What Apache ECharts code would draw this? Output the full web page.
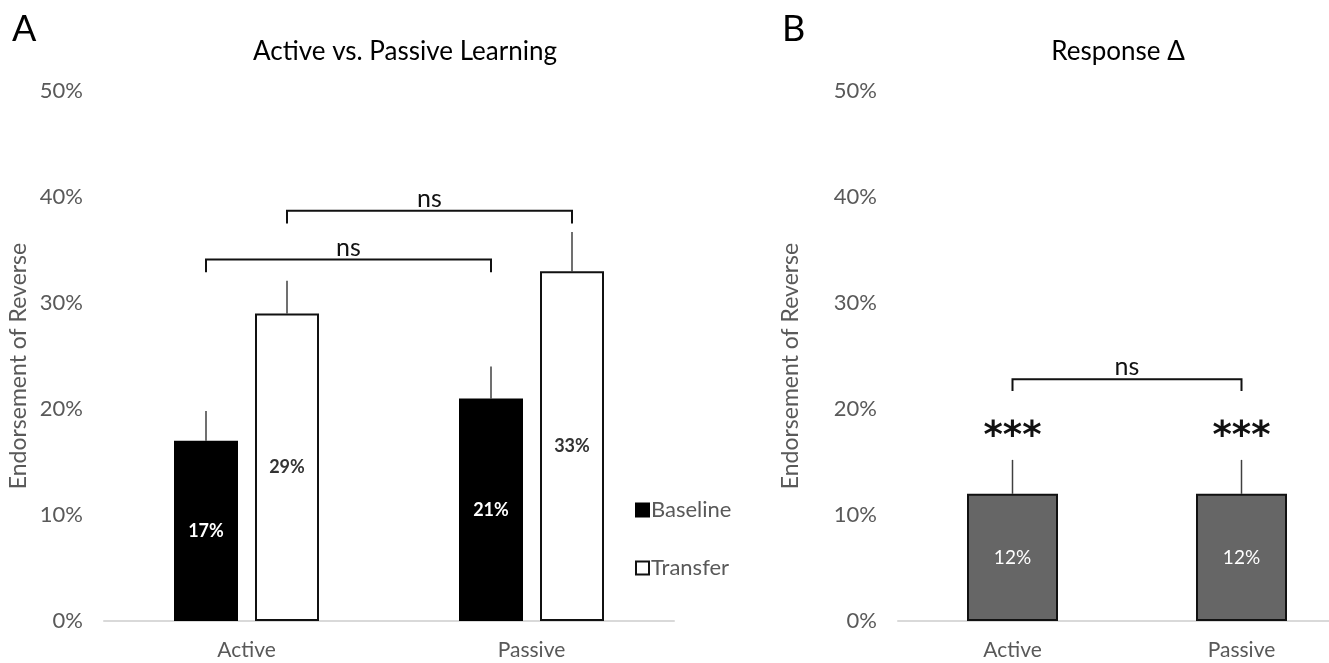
<!DOCTYPE html>
<html>
<head>
<meta charset="utf-8">
<script src="https://cdn.jsdelivr.net/npm/echarts@6/dist/echarts.min.js"></script>
<style>
  html, body { margin: 0; padding: 0; background: #fff; width: 1329px; height: 663px; overflow: hidden; }
  /* the right panel's plot area runs past the page edge */
  #chart { width: 1356px; height: 663px; }
</style>
</head>
<body>
<div id="chart"></div>
<script>
// Categories and values (percent)
const categories = ['Active', 'Passive'];
const yTicks = [0, 10, 20, 30, 40, 50];

// Panel A: endorsement at baseline and transfer
const baseline = [17, 21];
const baselineErr = [2.8, 3.0];
const transfer = [29, 33];
const transferErr = [3.1, 3.7];

// Panel B: response change
const delta = [12, 12];
const deltaErr = [3.2, 3.2];
const deltaStars = ['***', '***'];

// Significance brackets: [fromCategory, toCategory, barSide, height, legDrop, label]
const bracketsA = [
  [0, 1, -1, 34.1, 1.2, 'ns'],
  [0, 1, 1, 38.7, 1.2, 'ns']
];
const bracketsB = [
  [0, 1, 0, 22.8, 1.1, 'ns']
];

const FONT = 'Lato, "Open Sans", sans-serif';
const GRAY = '#595959';
const BAR_W = 64;
const BAR_GAP = 17;
const BAR_W_B = 91;
const HALF_STEP = (BAR_W + BAR_GAP) / 2;

function yAxisCfg(gridIndex, nameGap) {
  return {
    type: 'value', gridIndex: gridIndex, min: yTicks[0], max: yTicks[yTicks.length - 1], interval: 10,
    name: 'Endorsement of Reverse', nameLocation: 'middle', nameGap: nameGap,
    nameTextStyle: { color: GRAY, fontSize: 23, fontFamily: FONT, padding: [0, 20, 0, 0] },
    axisLine: { show: false }, axisTick: { show: false }, splitLine: { show: false },
    axisLabel: { color: GRAY, fontSize: 22, fontFamily: FONT, margin: 21,
      formatter: v => v + '%' }
  };
}
function xAxisCfg(gridIndex) {
  return {
    type: 'category', gridIndex: gridIndex, data: categories,
    axisLine: { lineStyle: { color: '#d9d9d9', width: 2 } },
    axisTick: { show: false },
    axisLabel: { color: GRAY, fontSize: 21, fontFamily: FONT, margin: 19 }
  };
}

// Upper error whisker drawn from the bar top
function errorRender(offset) {
  return function (params, api) {
    const cat = api.value(0);
    const x = api.coord([cat, 0])[0] + offset;
    const y0 = api.coord([cat, api.value(1)])[1];
    const y1 = api.coord([cat, api.value(1) + api.value(2)])[1];
    return {
      type: 'line', z2: 1,
      shape: { x1: x, y1: y0, x2: x, y2: y1 },
      style: { stroke: '#404040', lineWidth: 1.5 }
    };
  };
}
function errorData(vals, errs) {
  return vals.map((v, i) => [i, v, errs[i]]);
}

const bracketLabels = {
  bracketsA: bracketsA.map(b => b[5]),
  bracketsB: bracketsB.map(b => b[5])
};

// Bracket with legs and a centred label
function bracketRender(params, api) {
  const a = api.value(0), b = api.value(1), side = api.value(2);
  const h = api.value(3), drop = api.value(4);
  const label = bracketLabels[params.seriesName][params.dataIndex];
  const xa = api.coord([a, 0])[0] + side * HALF_STEP;
  const xb = api.coord([b, 0])[0] + side * HALF_STEP;
  const yTop = api.coord([a, h])[1];
  const yLeg = api.coord([a, h - drop])[1];
  return {
    type: 'group',
    children: [
      { type: 'polyline', shape: { points: [[xa, yLeg], [xa, yTop], [xb, yTop], [xb, yLeg]] },
        style: { stroke: '#111', lineWidth: 2, fill: null } },
      { type: 'text', x: (xa + xb) / 2, y: yTop - 12,
        style: { text: label, fill: '#111', fontSize: 25, fontFamily: FONT,
          align: 'center', verticalAlign: 'middle' } }
    ]
  };
}

// Significance stars above the panel B whiskers
function starRender(params, api) {
  const cat = api.value(0);
  const p = api.coord([cat, api.value(1) + api.value(2)]);
  return {
    type: 'text', x: p[0], y: p[1] - 22,
    style: { text: deltaStars[params.dataIndex], fill: '#111', fontSize: 37,
      fontWeight: 'bold', fontFamily: '"DejaVu Sans", sans-serif',
      align: 'center', verticalAlign: 'middle' }
  };
}

const chart = echarts.init(document.getElementById('chart'), null, { renderer: 'canvas' });
chart.setOption({
  backgroundColor: '#fff',
  animation: false,
  title: [
    { text: 'A', left: 7, top: 6, textStyle: { fontSize: 36, fontWeight: 'normal', color: '#000', fontFamily: FONT } },
    { text: 'Active vs. Passive Learning', left: 400, top: 34, textAlign: 'center',
      textStyle: { fontSize: 26, fontWeight: 'normal', color: '#000', fontFamily: FONT } },
    { text: 'B', left: 777, top: 6, textStyle: { fontSize: 36, fontWeight: 'normal', color: '#000', fontFamily: FONT } },
    { text: 'Response Δ', left: 1113, top: 34, textAlign: 'center',
      textStyle: { fontSize: 26, fontWeight: 'normal', color: '#000', fontFamily: FONT } }
  ],
  legend: {
    orient: 'vertical', left: 630, top: 494, itemGap: 36,
    itemWidth: 13, itemHeight: 13, icon: 'rect',
    data: ['Baseline', 'Transfer'],
    textStyle: { color: GRAY, fontSize: 22, fontFamily: FONT, padding: [0, 0, 0, -3] }
  },
  grid: [
    { left: 104, width: 570, top: 91, bottom: 42 },
    { left: 898, width: 458, top: 91, bottom: 42 }
  ],
  xAxis: [xAxisCfg(0), xAxisCfg(1)],
  yAxis: [yAxisCfg(0, 74), yAxisCfg(1, 96)],
  series: [
    { name: 'Baseline', type: 'bar', xAxisIndex: 0, yAxisIndex: 0, data: baseline,
      barWidth: BAR_W, barGap: (BAR_GAP / BAR_W * 100) + '%',
      itemStyle: { color: '#000', borderColor: '#000', borderWidth: 1.5 },
      label: { show: true, position: 'inside', color: '#fff', fontSize: 18, fontWeight: 'bold',
        fontFamily: FONT, formatter: p => p.value + '%' } },
    { name: 'Transfer', type: 'bar', xAxisIndex: 0, yAxisIndex: 0, data: transfer,
      barWidth: BAR_W, barGap: (BAR_GAP / BAR_W * 100) + '%',
      itemStyle: { color: '#fff', borderColor: '#111', borderWidth: 2 },
      label: { show: true, position: 'inside', color: '#333', fontSize: 18, fontWeight: 'bold',
        fontFamily: FONT, formatter: p => p.value + '%' } },
    { name: 'baselineErr', type: 'custom', xAxisIndex: 0, yAxisIndex: 0, z: 1,
      renderItem: errorRender(-HALF_STEP), data: errorData(baseline, baselineErr) },
    { name: 'transferErr', type: 'custom', xAxisIndex: 0, yAxisIndex: 0, z: 1,
      renderItem: errorRender(HALF_STEP), data: errorData(transfer, transferErr) },
    { name: 'bracketsA', type: 'custom', xAxisIndex: 0, yAxisIndex: 0,
      renderItem: bracketRender, data: bracketsA.map(b => b.slice(0, 5)) },

    { name: 'Delta', type: 'bar', xAxisIndex: 1, yAxisIndex: 1, data: delta,
      barWidth: BAR_W_B,
      itemStyle: { color: '#666666', borderColor: '#111', borderWidth: 2 },
      label: { show: true, position: 'inside', color: '#fff', fontSize: 19,
        fontFamily: FONT, formatter: p => p.value + '%' } },
    { name: 'deltaErr', type: 'custom', xAxisIndex: 1, yAxisIndex: 1, z: 1,
      renderItem: errorRender(0), data: errorData(delta, deltaErr) },
    { name: 'deltaStars', type: 'custom', xAxisIndex: 1, yAxisIndex: 1,
      renderItem: starRender, data: errorData(delta, deltaErr) },
    { name: 'bracketsB', type: 'custom', xAxisIndex: 1, yAxisIndex: 1,
      renderItem: bracketRender, data: bracketsB.map(b => b.slice(0, 5)) }
  ]
});
</script>
</body>
</html>
